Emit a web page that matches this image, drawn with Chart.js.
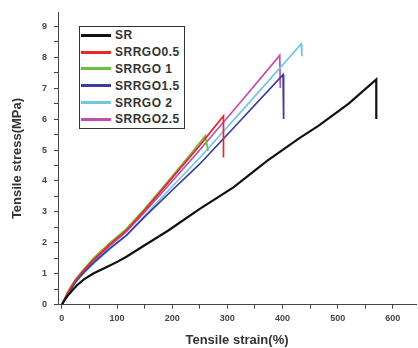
<!DOCTYPE html>
<html>
<head>
<meta charset="utf-8">
<script src="https://cdn.jsdelivr.net/npm/chart.js@4/dist/chart.umd.min.js"></script>
<style>
  html, body { margin: 0; padding: 0; background: #fff; }
  #wrap { position: relative; width: 418px; height: 348px; }
  #legend {
    position: absolute; left: 79px; top: 26px; width: 104px;
    border: 1px solid #333; background: #fff;
    font: bold 12px "Liberation Sans", Arial, sans-serif; color: #333;
  }
  .row { height: 16.8px; display: flex; align-items: center; letter-spacing: 0.5px; }
  .row .swatch { width: 30px; height: 3px; margin: 0 4px 0 1px; }
</style>
</head>
<body>
<div id="wrap">
  <canvas id="chart" width="418" height="348"></canvas>
  <div id="legend"></div>
</div>
<script>
// series labels and colours
const seriesNames = ['SR', 'SRRGO0.5', 'SRRGO 1', 'SRRGO1.5', 'SRRGO 2', 'SRRGO2.5'];
const seriesColors = ['#111111', '#e8282a', '#6cbf3c', '#3b3c9e', '#72c8e2', '#c24fae'];

// strain (%) / stress (MPa)
const srStrain = [0, 5, 10, 15, 20, 27, 40, 57, 72, 87, 102, 117, 140, 193, 250, 311, 372, 432, 465, 520, 570, 570];
const srStress = [0, 0.15, 0.28, 0.38, 0.48, 0.62, 0.82, 1.01, 1.14, 1.27, 1.40, 1.55, 1.81, 2.40, 3.10, 3.79, 4.65, 5.40, 5.78, 6.50, 7.28, 6.0];

const go05Strain = [0, 5, 10, 15, 25, 40, 57, 87, 117, 150, 200, 250, 293, 293];
const go05Stress = [0, 0.18, 0.36, 0.52, 0.80, 1.12, 1.45, 1.95, 2.40, 3.05, 4.10, 5.15, 6.10, 4.76];

const go1Strain = [0, 5, 10, 15, 25, 40, 57, 87, 117, 150, 200, 230, 260, 265];
const go1Stress = [0, 0.20, 0.38, 0.55, 0.82, 1.15, 1.50, 2.00, 2.45, 3.10, 4.15, 4.80, 5.46, 4.97];

const go15Strain = [0, 5, 10, 15, 25, 40, 57, 87, 117, 150, 200, 250, 323, 401, 402];
const go15Stress = [0, 0.16, 0.32, 0.47, 0.74, 1.05, 1.35, 1.82, 2.24, 2.84, 3.70, 4.55, 5.94, 7.44, 6.0];

const go2Strain = [0, 5, 10, 15, 25, 40, 57, 87, 117, 150, 200, 250, 323, 434, 435];
const go2Stress = [0, 0.15, 0.30, 0.45, 0.72, 1.02, 1.32, 1.80, 2.24, 2.87, 3.82, 4.75, 6.20, 8.43, 8.03];

const go25Strain = [0, 5, 10, 15, 25, 40, 57, 87, 117, 150, 200, 250, 323, 395, 396];
const go25Stress = [0, 0.17, 0.34, 0.50, 0.78, 1.10, 1.42, 1.90, 2.36, 2.99, 3.99, 5.00, 6.53, 8.06, 7.01];

// tick marks (every 50 % / 0.5 MPa), labels only on the major ones
const xTickValues = [0, 50, 100, 150, 200, 250, 300, 350, 400, 450, 500, 550, 600];
const xTickLabels = [0, 100, 200, 300, 400, 500, 600];
const yTickLabels = [0, 1, 2, 3, 4, 5, 6, 7, 8, 9];

const strains = [srStrain, go05Strain, go1Strain, go15Strain, go2Strain, go25Strain];
const stresses = [srStress, go05Stress, go1Stress, go15Stress, go2Stress, go25Stress];

const datasets = seriesNames.map((name, i) => ({
  label: name,
  data: strains[i].map((x, j) => ({ x: x, y: stresses[i][j] })),
  borderColor: seriesColors[i],
  borderWidth: i === 0 ? 2.2 : 1.7,
  pointRadius: 0,
  showLine: true,
  tension: 0
}));

const axisColor = '#444';
const tickFont = { family: '"Liberation Sans", Arial, sans-serif', size: 9, weight: 'bold' };
const titleFont = { family: '"Liberation Sans", Arial, sans-serif', size: 13, weight: 'bold' };

new Chart(document.getElementById('chart'), {
  type: 'scatter',
  data: { datasets },
  options: {
    responsive: false,
    animation: false,
    layout: { padding: { top: 10.7, right: 2, left: 0, bottom: 0 } },
    plugins: { legend: { display: false }, tooltip: { enabled: false } },
    scales: {
      x: {
        type: 'linear',
        min: -7,
        max: 642,
        afterBuildTicks: (scale) => { scale.ticks = xTickValues.map(v => ({ value: v })); },
        afterFit: (scale) => { scale.height = 43.3; },
        border: { color: axisColor, width: 1 },
        grid: { drawOnChartArea: false, drawTicks: true, tickLength: 4, color: axisColor },
        ticks: {
          maxRotation: 0,
          autoSkip: false,
          padding: 4,
          color: '#444',
          font: tickFont,
          callback: (v) => xTickLabels.includes(v) ? String(v) : ''
        },
        title: { display: true, text: 'Tensile strain(%)', color: '#333', font: titleFont, padding: { top: 0, bottom: 0 } }
      },
      y: {
        type: 'linear',
        min: 0,
        max: 9.45,
        afterFit: (scale) => { scale.width = 58; },
        border: { color: axisColor, width: 1 },
        grid: { drawOnChartArea: false, drawTicks: true, tickLength: 4, color: axisColor },
        ticks: {
          stepSize: 0.5,
          includeBounds: false,
          autoSkip: false,
          padding: 7,
          color: '#444',
          font: tickFont,
          callback: (v) => yTickLabels.includes(v) ? String(v) : ''
        },
        title: { display: true, text: 'Tensile stress(MPa)', color: '#333', font: titleFont, padding: { top: 10, bottom: 0 } }
      }
    }
  }
});

// legend box in the upper left of the plot
const legend = document.getElementById('legend');
seriesNames.forEach((name, i) => {
  const row = document.createElement('div');
  row.className = 'row';
  row.innerHTML = '<span class="swatch" style="background:' + seriesColors[i] + '"></span><span>' + name + '</span>';
  legend.appendChild(row);
});
</script>
</body>
</html>
